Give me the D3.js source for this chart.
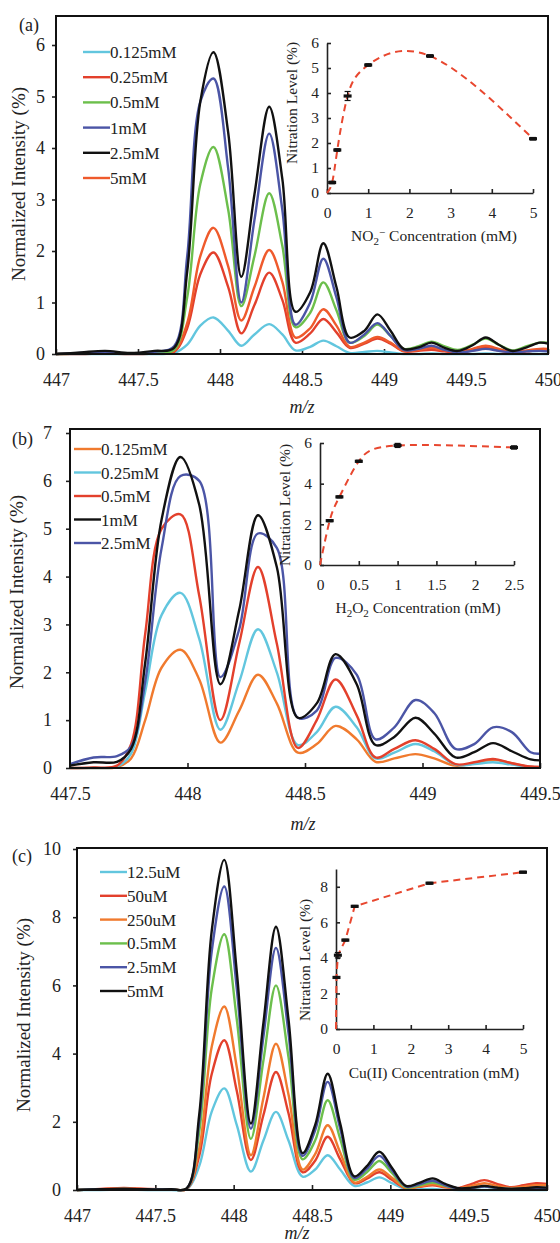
<!DOCTYPE html>
<html>
<head>
<meta charset="utf-8">
<script src="https://cdn.jsdelivr.net/npm/d3@7/dist/d3.min.js"></script>
<style>
  body { margin: 0; background: #fff; }
  svg, svg text { font-family: "Liberation Serif", "Times New Roman", serif; }
</style>
</head>
<body>
<svg id="fig" width="560" height="1243"></svg>
<script>
// ---------- panel (a): NO2- ----------
const mzA = [447, 447.15, 447.3, 447.45, 447.6, 447.72, 447.8, 447.88, 447.96, 448.05, 448.13, 448.21, 448.30, 448.38, 448.46, 448.55, 448.63, 448.71, 448.79, 448.88, 448.96, 449.04, 449.12, 449.21, 449.29, 449.37, 449.45, 449.54, 449.62, 449.70, 449.78, 449.87, 449.95, 450];
const a_0125 = [0, 0, 0, 0, 0, 0.02, 0.18, 0.55, 0.71, 0.45, 0.16, 0.38, 0.58, 0.38, 0.07, 0.14, 0.26, 0.15, 0.02, 0.04, 0.06, 0.03, 0, 0, 0.01, 0, 0, 0, 0.01, 0, 0, 0, 0, 0];
const a_025 = [0, 0, 0.01, 0, 0.01, 0.04, 0.5, 1.55, 1.97, 1.3, 0.4, 0.95, 1.58, 1.05, 0.22, 0.4, 0.68, 0.42, 0.12, 0.2, 0.3, 0.2, 0.05, 0.06, 0.08, 0.05, 0.03, 0.07, 0.12, 0.07, 0.03, 0.05, 0.08, 0.07];
const a_05 = [0, 0.01, 0.02, 0.01, 0.02, 0.08, 1.1, 3.3, 4.02, 2.8, 0.93, 1.9, 3.12, 2.1, 0.52, 0.8, 1.39, 0.85, 0.22, 0.35, 0.57, 0.35, 0.1, 0.15, 0.24, 0.15, 0.08, 0.18, 0.3, 0.18, 0.07, 0.15, 0.22, 0.22];
const a_1 = [0, 0.02, 0.03, 0.01, 0.04, 0.15, 1.9, 4.9, 5.35, 3.6, 1.0, 2.6, 4.28, 2.8, 0.57, 1.0, 1.85, 1.1, 0.22, 0.38, 0.6, 0.35, 0.08, 0.1, 0.16, 0.08, 0.03, 0.06, 0.1, 0.06, 0.03, 0.05, 0.06, 0.05];
const a_25 = [0, 0.03, 0.06, 0.02, 0.06, 0.12, 1.6, 4.9, 5.86, 4.3, 1.5, 3.1, 4.8, 3.4, 0.82, 1.2, 2.15, 1.3, 0.32, 0.45, 0.77, 0.45, 0.1, 0.13, 0.22, 0.12, 0.06, 0.17, 0.32, 0.18, 0.06, 0.13, 0.22, 0.2];
const a_5 = [0, 0.01, 0.02, 0.01, 0.02, 0.06, 0.6, 1.9, 2.45, 1.7, 0.65, 1.3, 2.02, 1.4, 0.32, 0.5, 0.87, 0.55, 0.14, 0.22, 0.33, 0.22, 0.06, 0.08, 0.12, 0.07, 0.04, 0.1, 0.16, 0.1, 0.04, 0.07, 0.1, 0.1];
const labelsA = ["0.125mM", "0.25mM", "0.5mM", "1mM", "2.5mM", "5mM"];
const xTicksA = [447, 447.5, 448, 448.5, 449, 449.5, 450];
const yTicksA = [0, 1, 2, 3, 4, 5, 6];

const concA = [0, 0.125, 0.25, 0.5, 1, 2.5, 5];
const levelA = [0, 0.42, 1.72, 3.88, 5.12, 5.48, 2.17];
const errA = [0, 0.05, 0.05, 0.18, 0.05, 0.05, 0.05];

// ---------- panel (b): H2O2 ----------
const mzB = [447.5, 447.6, 447.7, 447.76, 447.82, 447.89, 447.97, 448.05, 448.14, 448.22, 448.30, 448.38, 448.47, 448.55, 448.63, 448.72, 448.80, 448.88, 448.97, 449.05, 449.14, 449.22, 449.30, 449.38, 449.46, 449.5];
const b_0125 = [0, 0, 0.02, 0.2, 1.0, 2.1, 2.47, 1.85, 0.53, 1.2, 1.95, 1.35, 0.32, 0.5, 0.88, 0.6, 0.13, 0.2, 0.29, 0.2, 0.05, 0.1, 0.17, 0.1, 0.02, 0.01];
const b_025 = [0, 0, 0.03, 0.3, 1.6, 3.2, 3.66, 2.7, 0.8, 1.8, 2.9, 2.0, 0.48, 0.75, 1.28, 0.85, 0.2, 0.32, 0.5, 0.35, 0.07, 0.08, 0.12, 0.07, 0.02, 0.02];
const b_05 = [0, 0.01, 0.05, 0.5, 2.8, 5.0, 5.3, 3.6, 1.0, 2.6, 4.2, 2.6, 0.42, 1.0, 1.85, 1.1, 0.22, 0.4, 0.58, 0.4, 0.08, 0.12, 0.19, 0.1, 0.03, 0.02];
const b_1 = [0.05, 0.12, 0.13, 0.4, 2.2, 5.2, 6.5, 5.5, 1.75, 3.3, 5.28, 4.2, 1.05, 1.35, 2.38, 1.75, 0.48, 0.65, 1.05, 0.72, 0.22, 0.33, 0.52, 0.35, 0.18, 0.16];
const b_25 = [0.08, 0.22, 0.25, 0.45, 1.8, 4.6, 6.1, 6.0, 1.9, 2.9, 4.9, 4.6, 1.05, 1.2, 2.3, 1.95, 0.6, 0.85, 1.42, 1.15, 0.4, 0.5, 0.85, 0.75, 0.33, 0.3];
const labelsB = ["0.125mM", "0.25mM", "0.5mM", "1mM", "2.5mM"];
const xTicksB = [447.5, 448, 448.5, 449, 449.5];
const yTicksB = [0, 1, 2, 3, 4, 5, 6, 7];

const concB = [0, 0.125, 0.25, 0.5, 1, 2.5];
const levelB = [0, 2.18, 3.35, 5.1, 5.88, 5.78];
const errB = [0, 0.05, 0.05, 0.05, 0.1, 0.08];

// ---------- panel (c): Cu(II) ----------
const mzC = [447, 447.15, 447.3, 447.45, 447.6, 447.7, 447.78, 447.86, 447.94, 448.02, 448.11, 448.19, 448.27, 448.35, 448.44, 448.52, 448.60, 448.68, 448.77, 448.85, 448.93, 449.01, 449.10, 449.18, 449.27, 449.35, 449.44, 449.52, 449.60, 449.68, 449.77, 449.85, 449.93, 450];
const c_125u = [0, 0, 0.01, 0, 0, 0.02, 0.7, 2.3, 2.98, 1.9, 0.54, 1.45, 2.29, 1.45, 0.39, 0.6, 1.02, 0.6, 0.12, 0.22, 0.37, 0.2, 0.02, 0.02, 0.03, 0.01, 0, 0, 0, 0, 0, 0, 0, 0];
const c_50u = [0, 0.03, 0.06, 0.03, 0.02, 0.03, 1.0, 3.4, 4.39, 2.9, 0.88, 2.2, 3.46, 2.25, 0.52, 0.86, 1.56, 0.9, 0.2, 0.33, 0.52, 0.3, 0.05, 0.09, 0.14, 0.08, 0.06, 0.18, 0.29, 0.18, 0.08, 0.14, 0.2, 0.18];
const c_250u = [0, 0.02, 0.04, 0.02, 0.02, 0.03, 1.2, 4.2, 5.38, 3.6, 1.02, 2.7, 4.29, 2.8, 0.6, 1.05, 1.9, 1.1, 0.22, 0.38, 0.6, 0.36, 0.06, 0.1, 0.17, 0.1, 0.05, 0.12, 0.2, 0.12, 0.06, 0.1, 0.14, 0.14];
const c_05m = [0, 0.02, 0.03, 0.02, 0.02, 0.04, 1.7, 5.9, 7.5, 5.0, 1.5, 3.8, 6.0, 3.9, 0.9, 1.45, 2.63, 1.5, 0.3, 0.52, 0.85, 0.5, 0.08, 0.13, 0.22, 0.12, 0.04, 0.06, 0.1, 0.06, 0.03, 0.04, 0.06, 0.05];
const c_25m = [0, 0.02, 0.03, 0.02, 0.02, 0.04, 2.0, 7.0, 8.9, 5.9, 1.8, 4.5, 7.1, 4.6, 1.0, 1.75, 3.17, 1.8, 0.35, 0.62, 1.0, 0.58, 0.1, 0.16, 0.27, 0.14, 0.04, 0.06, 0.1, 0.06, 0.03, 0.04, 0.06, 0.05];
const c_5m = [0, 0.02, 0.03, 0.02, 0.02, 0.05, 2.2, 7.6, 9.68, 6.4, 1.95, 4.9, 7.72, 5.0, 1.08, 1.9, 3.41, 1.95, 0.4, 0.7, 1.12, 0.65, 0.12, 0.2, 0.34, 0.18, 0.05, 0.07, 0.12, 0.07, 0.03, 0.05, 0.08, 0.07];
const labelsC = ["12.5uM", "50uM", "250uM", "0.5mM", "2.5mM", "5mM"];
const xTicksC = [447, 447.5, 448, 448.5, 449, 449.5, 450];
const yTicksC = [0, 2, 4, 6, 8, 10];

const concC = [0, 0.0125, 0.05, 0.25, 0.5, 2.5, 5];
const levelC = [0, 2.9, 4.15, 5.0, 6.9, 8.2, 8.82];
const errC = [0, 0.05, 0.15, 0.05, 0.05, 0.05, 0.05];

// colours
const LBLUE = "#62c6de", RED = "#e3402c", GREEN = "#6cbf4c", BLUE = "#4b55a6", BLACK = "#111", ORANGE = "#f07a2e", ORED = "#ef5a2c";

const svg = d3.select("#fig");
const fmt = d3.format("~g");

// the axis sets its own font attrs on the group; drop them so the css serif applies
function styleAxis(a, fs, domain) {
  a.attr("font-family", null).attr("font-size", null);
  if (domain) a.select(".domain").attr("stroke", "#222").attr("stroke-width", 1.6);
  else a.select(".domain").remove();
  a.selectAll("line").attr("stroke", "#222").attr("stroke-width", 1.6);
  a.selectAll("text").attr("font-size", fs).attr("fill", "#222");
}

function spectrum(o) {
  const g = svg.append("g");
  const x = d3.scaleLinear().domain(o.xDom).range([o.left, o.right]);
  const y = d3.scaleLinear().domain([0, o.yMax]).range([o.bottom, o.yMaxPx]);

  g.append("g").attr("transform", `translate(0,${o.bottom})`)
    .call(d3.axisBottom(x).tickValues(o.xTicks).tickFormat(fmt).tickSizeInner(-5).tickSizeOuter(0).tickPadding(19))
    .call(a => styleAxis(a, 18, false));
  g.append("g").attr("transform", `translate(${o.left},0)`)
    .call(d3.axisLeft(y).tickValues(o.yTicks).tickFormat(fmt).tickSizeInner(4).tickSizeOuter(0).tickPadding(o.yPad))
    .call(a => styleAxis(a, 18, false));

  const line = d3.line().x((d, i) => x(o.mz[i])).y(d => y(d)).curve(d3.curveCatmullRom.alpha(0.5));
  o.order.forEach(k => {
    g.append("path").attr("d", line(o.series[k])).attr("fill", "none")
      .attr("stroke", o.colors[k]).attr("stroke-width", 2.4).attr("stroke-linejoin", "round");
  });

  g.append("rect").attr("x", o.left).attr("y", o.frameTop)
    .attr("width", o.right - o.left).attr("height", o.bottom - o.frameTop)
    .attr("fill", "none").attr("stroke", "#111").attr("stroke-width", 2);

  // legend
  o.labels.forEach((lab, i) => {
    const yy = o.legY + i * o.legStep;
    g.append("line").attr("x1", o.legX).attr("x2", o.legX + 27).attr("y1", yy).attr("y2", yy)
      .attr("stroke", o.colors[i]).attr("stroke-width", 2.4);
    g.append("text").attr("x", o.legX + 27).attr("y", yy + 6).attr("font-size", 17).attr("fill", "#222").text(lab);
  });

  g.append("text").attr("transform", `translate(${o.titleX},${o.titleY}) rotate(-90)`)
    .attr("text-anchor", "middle").attr("font-size", 19).attr("fill", "#222").text("Normalized Intensity (%)");
  g.append("text").attr("x", o.mzX).attr("y", o.mzY).attr("text-anchor", "middle")
    .attr("font-size", 18).attr("font-style", "italic").attr("fill", "#222").text("m/z");
  g.append("text").attr("x", o.tagX).attr("y", o.tagY).attr("font-size", 18).attr("fill", "#222").text(o.tag);
}

function inset(o) {
  const g = svg.append("g");
  const x = d3.scaleLinear().domain([0, o.xMax]).range([o.x0, o.x1]);
  const y = d3.scaleLinear().domain([0, o.yMax]).range([o.y0, o.y1]);

  g.append("g").attr("transform", `translate(0,${o.y0})`)
    .call(d3.axisBottom(x).tickValues(o.xTicks).tickFormat(fmt).tickSizeInner(-4).tickSizeOuter(0).tickPadding(14))
    .call(a => styleAxis(a, 15.5, true));
  g.append("g").attr("transform", `translate(${o.x0},0)`)
    .call(d3.axisLeft(y).tickValues(o.yTicks).tickFormat(fmt).tickSizeInner(-4).tickSizeOuter(0).tickPadding(8))
    .call(a => styleAxis(a, 15.5, true));

  const pts = o.conc.map((c, i) => [c, o.level[i], o.err[i]]);
  const line = d3.line().x(d => x(d[0])).y(d => y(d[1])).curve(o.curve);
  g.append("path").attr("d", line(pts)).attr("fill", "none").attr("stroke", "#e8472f")
    .attr("stroke-width", 2).attr("stroke-dasharray", "7,5");

  pts.slice(1).forEach(d => {
    const cx = x(d[0]);
    g.append("line").attr("x1", cx).attr("x2", cx).attr("y1", y(d[1] - d[2])).attr("y2", y(d[1] + d[2])).attr("stroke", "#111").attr("stroke-width", 1.2);
    [d[1] - d[2], d[1] + d[2]].forEach(v => g.append("line").attr("x1", cx - 3).attr("x2", cx + 3).attr("y1", y(v)).attr("y2", y(v)).attr("stroke", "#111").attr("stroke-width", 1.2));
    g.append("rect").attr("x", cx - 4).attr("y", y(d[1]) - 1.6).attr("width", 8).attr("height", 3.2).attr("fill", "#111");
  });

  g.append("text").attr("transform", `translate(${o.yTitleX},${o.yTitleY}) rotate(-90)`)
    .attr("text-anchor", "middle").attr("font-size", 15.5).attr("fill", "#222").text("Nitration Level (%)");
  const t = g.append("text").attr("x", o.xTitleX).attr("y", o.xTitleY).attr("text-anchor", "middle")
    .attr("font-size", 15.5).attr("fill", "#222");
  o.xTitle.forEach(p => {
    const s = t.append("tspan").text(p.t);
    if (p.dy) s.attr("dy", p.dy);
    if (p.fs) s.attr("font-size", p.fs);
  });
}

spectrum({
  mz: mzA, series: [a_0125, a_025, a_05, a_1, a_25, a_5], labels: labelsA,
  colors: [LBLUE, RED, GREEN, BLUE, BLACK, ORED], order: [0, 1, 5, 2, 3, 4],
  xDom: [447, 450], xTicks: xTicksA, yTicks: yTicksA, yMax: 6,
  left: 56, right: 548, bottom: 354, yMaxPx: 45, frameTop: 16, yPad: 7,
  legX: 83, legY: 52, legStep: 25.2,
  titleX: 25, titleY: 184, mzX: 302, mzY: 413, tagX: 19, tagY: 31, tag: "(a)"
});
spectrum({
  mz: mzB, series: [b_0125, b_025, b_05, b_1, b_25], labels: labelsB,
  colors: [ORANGE, LBLUE, RED, BLACK, BLUE], order: [0, 1, 2, 4, 3],
  xDom: [447.5, 449.5], xTicks: xTicksB, yTicks: yTicksB, yMax: 7,
  left: 70, right: 540, bottom: 768, yMaxPx: 433, frameTop: 429, yPad: 14,
  legX: 74, legY: 449, legStep: 23.5,
  titleX: 23, titleY: 592, mzX: 303, mzY: 830, tagX: 12, tagY: 445, tag: "(b)"
});
spectrum({
  mz: mzC, series: [c_125u, c_50u, c_250u, c_05m, c_25m, c_5m], labels: labelsC,
  colors: [LBLUE, RED, ORANGE, GREEN, BLUE, BLACK], order: [0, 1, 2, 3, 4, 5],
  xDom: [447, 450], xTicks: xTicksC, yTicks: yTicksC, yMax: 10,
  left: 77, right: 547, bottom: 1190, yMaxPx: 849, frameTop: 848, yPad: 12,
  legX: 100, legY: 872, legStep: 23.8,
  titleX: 30, titleY: 1015, mzX: 297, mzY: 1239, tagX: 12, tagY: 862, tag: "(c)"
});

inset({
  conc: concA, level: levelA, err: errA, curve: d3.curveNatural,
  xMax: 5, yMax: 6, x0: 327, x1: 533, y0: 193, y1: 43,
  xTicks: [0, 1, 2, 3, 4, 5], yTicks: [0, 1, 2, 3, 4, 5, 6],
  yTitleX: 297, yTitleY: 103, xTitleX: 434, xTitleY: 241,
  xTitle: [{ t: "NO" }, { t: "2", dy: 4, fs: 11 }, { t: "\u2212", dy: -9, fs: 11 }, { t: " Concentration (mM)", dy: 5 }]
});
inset({
  conc: concB, level: levelB, err: errB, curve: d3.curveNatural,
  xMax: 2.5, yMax: 6, x0: 320, x1: 514, y0: 565, y1: 443,
  xTicks: [0, 0.5, 1, 1.5, 2, 2.5], yTicks: [0, 2, 4, 6],
  yTitleX: 290, yTitleY: 505, xTitleX: 418, xTitleY: 613,
  xTitle: [{ t: "H" }, { t: "2", dy: 4, fs: 11 }, { t: "O", dy: -4 }, { t: "2", dy: 4, fs: 11 }, { t: " Concentration (mM)", dy: -4 }]
});
inset({
  conc: concC, level: levelC, err: errC, curve: d3.curveLinear,
  xMax: 5, yMax: 9, x0: 336, x1: 523, y0: 1029, y1: 869,
  xTicks: [0, 1, 2, 3, 4, 5], yTicks: [0, 2, 4, 6, 8],
  yTitleX: 310, yTitleY: 960, xTitleX: 434, xTitleY: 1078,
  xTitle: [{ t: "Cu(II) Concentration (mM)" }]
});
</script>
</body>
</html>
